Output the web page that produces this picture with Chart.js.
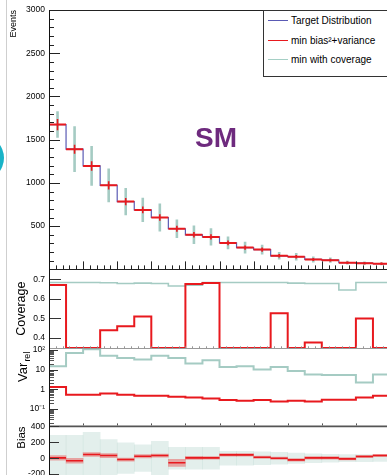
<!DOCTYPE html>
<html>
<head>
<meta charset="utf-8">
<script src="https://cdn.jsdelivr.net/npm/chart.js@4.4.1/dist/chart.umd.min.js"></script>
<style>
html, body { margin: 0; padding: 0; overflow: hidden; background: #fff; }
#wrap { position: relative; width: 387px; height: 475px; overflow: hidden; font-family: 'Liberation Sans', Arial, sans-serif; }
#plot { position: absolute; left: 0; top: 0; }
#edge { position: absolute; left: 6px; top: 0; width: 1px; height: 475px; background: #cfcfcf; }
#dot { position: absolute; left: -42px; top: 135px; width: 46px; height: 46px; border-radius: 50%; background: #19b3c7; }
#legend { position: absolute; left: 263px; top: 10px; width: 140px; height: 65px; border: 1px solid #333; background: #fff; font-size: 10px; color: #000; }
#legend .row { position: absolute; left: 27px; height: 12px; line-height: 12px; white-space: nowrap; }
#legend .smp { position: absolute; left: -23px; top: 5px; width: 20px; height: 0; border-top: 1.5px solid; }
#sm { position: absolute; left: 195px; top: 124px; font-size: 28px; line-height: 28px; font-weight: bold; color: #6e2a7e; }
</style>
</head>
<body>
<div id="wrap">
  <div id="edge"></div>
  <div id="dot"></div>
  <canvas id="plot" width="390" height="515"></canvas>
  <div id="legend">
    <div class="row" style="top:4px"><span class="smp" style="border-color:#5a5ab4"></span>Target Distribution</div>
    <div class="row" style="top:24px"><span class="smp" style="border-color:#e8191e"></span>min bias²+variance</div>
    <div class="row" style="top:43px"><span class="smp" style="border-color:#a5cfc5"></span>min with coverage</div>
  </div>
  <div id="sm">SM</div>
</div>
<script>
const FONT = "'Liberation Sans', Arial, sans-serif";
const RED = '#e8191e';
const BLUE = '#5a5ab4';
const GREEN = '#a5cbc3';

// events per bin (main pad)
const targetEvents  = [1675, 1390, 1197, 972, 784, 688, 600, 470, 400, 375, 306, 252, 229, 157, 146, 115, 107, 77, 72, 65];
const unfoldEvents  = [1675, 1390, 1197, 972, 784, 688, 600, 470, 400, 375, 306, 252, 229, 157, 146, 115, 107, 77, 72, 65];
const unfoldErr     = [65, 52, 55, 48, 42, 40, 38, 34, 32, 30, 28, 25, 24, 20, 20, 18, 17, 15, 14, 14];
const coverageErr   = [153, 264, 230, 195, 157, 140, 163, 107, 107, 100, 73, 67, 57, 44, 44, 34, 29, 22, 20, 18];

// coverage pad
const covRed   = [0.67, 0.35, 0.35, 0.44, 0.46, 0.51, 0.35, 0.35, 0.675, 0.68, 0.35, 0.35, 0.35, 0.527, 0.35, 0.378, 0.35, 0.35, 0.50, 0.35];
const covGreen = [0.683, 0.683, 0.683, 0.682, 0.678, 0.680, 0.678, 0.665, 0.670, 0.683, 0.683, 0.683, 0.683, 0.683, 0.680, 0.678, 0.678, 0.645, 0.683, 0.683];

// relative variance pad
const varRed   = [1.3, 0.52, 0.52, 0.61, 0.52, 0.47, 0.47, 0.42, 0.38, 0.34, 0.28, 0.26, 0.28, 0.24, 0.26, 0.24, 0.29, 0.29, 0.38, 0.47];
const varGreen = [14.8, 68, 108, 50, 38, 32, 50, 38, 20, 29.5, 13.6, 14.8, 10, 13.6, 8.3, 5.6, 5.3, 5.3, 2.2, 5.6];

// bias pad
const biasRed      = [4, -33, 46, 33, -17, 25, 33, -58, 4, 4, 42, 42, 12, 0, -21, 4, 4, -8, 21, 33];
const biasRedErr   = [30, 30, 25, 25, 20, 20, 20, 45, 20, 15, 15, 15, 15, 15, 15, 15, 15, 15, 15, 15];
const biasGreen    = [0, 0, 0, 0, 0, 0, 0, 0, 0, 0, 0, 0, 0, 0, 0, 0, 0, 0, 0, 0];
const biasGreenErr = [287, 287, 325, 233, 192, 167, 212, 137, 137, 137, 87, 87, 80, 75, 65, 55, 50, 45, 45, 40];

// axis ranges
const COV_MIN = 0.35, COV_MAX = 0.75;
const VAR_MIN = 0.013, VAR_MAX = 125;
const NBINS = unfoldEvents.length;

// histogram outline
function histLine(vals, base) {
  const pts = [];
  if (base !== undefined) pts.push({x: 0, y: base});
  vals.forEach((v, i) => { pts.push({x: i, y: v}, {x: i + 1, y: v}); });
  return pts;
}
// horizontal bar per bin, no verticals
function flatSegs(vals) {
  const pts = [];
  vals.forEach((v, i) => { pts.push({x: i, y: v}, {x: i + 1, y: v}, {x: i + 1, y: null}); });
  return pts;
}
// vertical error bar per bin
function errSegs(vals, errs) {
  const pts = [];
  vals.forEach((v, i) => { pts.push({x: i + 0.5, y: v - errs[i]}, {x: i + 0.5, y: v + errs[i]}, {x: i + 0.5, y: null}); });
  return pts;
}
function bands(vals, errs) {
  return vals.map((v, i) => ({x: i + 0.5, y: [v - errs[i], v + errs[i]]}));
}

function line(data, yAxisID, color, width, order) {
  return {type: 'line', data, yAxisID, borderColor: color, borderWidth: width, order,
          pointRadius: 0, spanGaps: false, fill: false, tension: 0};
}

// inner ticks, frames and the Var_rel title, ROOT style
const rootPads = {
  id: 'rootPads',
  afterDatasetsDraw(chart) {
    const {ctx, chartArea: area, scales} = chart;
    const L = area.left, R = area.right;
    const sx = scales.x;
    ctx.save();
    ctx.lineWidth = 1;
    const seg = (x0, y0, x1, y1, col) => {
      ctx.strokeStyle = col;
      ctx.beginPath(); ctx.moveTo(x0, y0); ctx.lineTo(x1, y1); ctx.stroke();
    };
    const yTicks = (s, values, len, col) => {
      values.forEach(v => {
        const y = Math.round(s.getPixelForValue(v)) + 0.5;
        if (y >= s.top && y <= s.bottom + 1) seg(L, y, L + len, y, col);
      });
    };

    // main pad
    const m = scales.yMain;
    const minor = [];
    for (let v = 0; v <= 3000; v += 100) minor.push(v);
    yTicks(m, minor, 5, '#222');
    yTicks(m, m.ticks.map(t => t.value), 11, '#222');
    for (let b = 0; b <= NBINS; b += 0.4) {
      const x = Math.round(sx.getPixelForValue(b)) + 0.5;
      const major = Math.abs(b / 2 - Math.round(b / 2)) < 1e-6;
      seg(x, m.bottom, x, m.bottom - (major ? 8 : 4), '#222');
    }
    seg(L, m.top + 0.5, R, m.top + 0.5, '#222');
    seg(L, Math.round(m.bottom) + 0.5, R, Math.round(m.bottom) + 0.5, '#222');

    // coverage pad
    const c = scales.yCov;
    yTicks(c, c.ticks.map(t => t.value), 12, '#333');
    for (let b = 0.4; b < NBINS; b += 0.4) {
      const x = Math.round(sx.getPixelForValue(b)) + 0.5;
      seg(x, c.bottom, x, c.bottom - 1.5, '#888');
    }
    seg(L, Math.round(c.bottom) + 0.5, R, Math.round(c.bottom) + 0.5, '#999');

    // variance pad
    const vs = scales.yVar;
    const logMinor = [];
    for (let e = -2; e <= 2; e++) for (let k = 2; k <= 9; k++) logMinor.push(k * Math.pow(10, e));
    yTicks(vs, logMinor, 5, '#555');
    yTicks(vs, vs.ticks.map(t => t.value), 9, '#333');
    ctx.lineWidth = 1.6;
    seg(L, vs.bottom, R, vs.bottom, '#555');
    ctx.lineWidth = 1;

    // bias pad
    const bs = scales.yBias;
    yTicks(bs, bs.ticks.map(t => t.value), 10, '#333');
    for (let b = 2; b < NBINS; b += 2) {
      const x = Math.round(sx.getPixelForValue(b)) + 0.5;
      seg(x, bs.top - 1, x, bs.top - 3, '#555');
    }

    // left axis line through all pads
    seg(L + 0.5, m.top, L + 0.5, bs.bottom, '#111');

    // Var_rel title
    ctx.fillStyle = '#000';
    ctx.translate(27, vs.top + 34);
    ctx.rotate(-Math.PI / 2);
    ctx.font = '13px ' + FONT;
    ctx.textBaseline = 'alphabetic';
    ctx.textAlign = 'left';
    ctx.fillText('Var', 0, 0);
    const w = ctx.measureText('Var').width;
    ctx.font = '9px ' + FONT;
    ctx.fillText('rel', w + 1, 3);
    ctx.restore();
  }
};

const tickFont = {family: FONT, size: 8.5};
const pad = (extra) => Object.assign({
  position: 'left', stack: 'pads', offset: false,
  grid: {display: false, drawTicks: false},
  border: {display: false},
  afterFit: s => { s.width = 49; }
}, extra);

new Chart(document.getElementById('plot'), {
  type: 'line',
  data: {
    datasets: [
      // main pad
      line(flatSegs(unfoldEvents), 'yMain', RED, 2, 1),
      line(errSegs(unfoldEvents, unfoldErr), 'yMain', RED, 1.6, 1),
      line(histLine(targetEvents, 0), 'yMain', BLUE, 1.2, 2),
      line(errSegs(unfoldEvents, coverageErr), 'yMain', GREEN, 2.6, 3),
      // coverage pad
      line(histLine(covRed, COV_MIN), 'yCov', RED, 2, 1),
      line(histLine(covGreen), 'yCov', GREEN, 1.6, 2),
      // variance pad
      line(histLine(varRed, VAR_MIN), 'yVar', RED, 2, 1),
      line(histLine(varGreen), 'yVar', GREEN, 2, 2),
      // bias pad
      line(flatSegs(biasRed), 'yBias', RED, 1.6, 1),
      {type: 'bar', data: bands(biasRed, biasRedErr), yAxisID: 'yBias', backgroundColor: 'rgba(235,70,70,0.45)',
       borderWidth: 0, grouped: false, barPercentage: 1, categoryPercentage: 1, order: 2},
      {type: 'bar', data: bands(biasGreen, biasGreenErr), yAxisID: 'yBias', backgroundColor: 'rgba(175,210,200,0.35)',
       borderWidth: 0, grouped: false, barPercentage: 1, categoryPercentage: 1, order: 3}
    ]
  },
  options: {
    responsive: false,
    animation: false,
    devicePixelRatio: 1,
    events: [],
    layout: {padding: {top: 10, bottom: 6, left: 0, right: 0}},
    plugins: {legend: {display: false}, tooltip: {enabled: false}},
    scales: {
      x: {type: 'linear', min: 0, max: NBINS, offset: false, display: false, ticks: {stepSize: 2}},
      yMain: pad({
        weight: 4, stackWeight: 261, min: 0, max: 3000,
        ticks: {stepSize: 500, autoSkip: false, font: tickFont, color: '#000', padding: 4,
                callback: v => v === 0 ? '' : String(v)},
        title: {display: true, text: 'Events', align: 'end', color: '#000',
                font: {family: FONT, size: 9}, padding: {top: 8, bottom: 0}}
      }),
      yCov: pad({
        weight: 3, stackWeight: 79, min: COV_MIN, max: COV_MAX,
        afterBuildTicks: s => { s.ticks = [0.4, 0.5, 0.6, 0.7].map(v => ({value: v})); },
        ticks: {autoSkip: false, font: tickFont, color: '#000', padding: 4, callback: v => v.toFixed(1)},
        title: {display: true, text: 'Coverage', align: 'center', color: '#000',
                font: {family: FONT, size: 12.5}, padding: {top: 14, bottom: 0}}
      }),
      yVar: pad({
        type: 'logarithmic', weight: 2, stackWeight: 79, min: VAR_MIN, max: VAR_MAX,
        afterBuildTicks: s => { s.ticks = [0.1, 1, 10, 100].map(v => ({value: v})); },
        ticks: {autoSkip: false, font: tickFont, color: '#000', padding: 4,
                callback: v => ({0.1: '10⁻¹', 1: '1', 10: '10', 100: '10²'})[v]}
      }),
      yBias: pad({
        weight: 1, stackWeight: 80, min: -600, max: 400,
        afterBuildTicks: s => { s.ticks = [-400, -200, 0, 200, 400].map(v => ({value: v})); },
        ticks: {autoSkip: false, font: tickFont, color: '#000', padding: 4, callback: v => String(v)},
        title: {display: true, text: 'Bias', align: 'end', color: '#000',
                font: {family: FONT, size: 11.5}, padding: {top: 15, bottom: 0}}
      })
    }
  },
  plugins: [rootPads]
});
</script>
</body>
</html>
